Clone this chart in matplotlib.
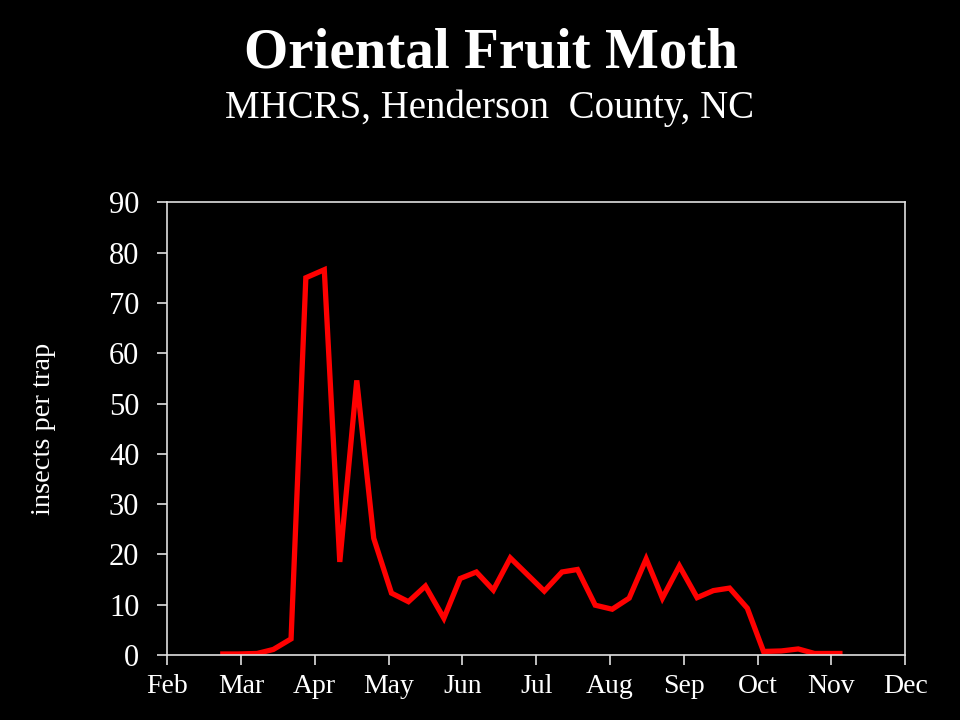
import matplotlib
matplotlib.use("Agg")
import matplotlib.pyplot as plt

# Trap dates as month positions (Feb = 2 ... Dec = 12)
week_pos = [2.72, 2.96, 3.22, 3.44, 3.68, 3.88, 4.13, 4.34, 4.57, 4.80,
            5.04, 5.27, 5.50, 5.75, 5.97, 6.19, 6.42, 6.65, 6.88, 7.11,
            7.35, 7.56, 7.80, 8.03, 8.26, 8.49, 8.71, 8.94, 9.18, 9.40,
            9.62, 9.86, 10.08, 10.32, 10.55, 10.77, 11.15]
insects = [0.2, 0.2, 0.3, 1.1, 3.2, 75.0, 76.6, 18.5, 54.6, 23.2,
           12.3, 10.6, 13.7, 7.3, 15.2, 16.5, 12.9, 19.3, 16.0, 12.7,
           16.5, 17.0, 9.9, 9.1, 11.3, 19.1, 11.3, 17.7, 11.4, 12.8,
           13.3, 9.3, 0.7, 0.8, 1.2, 0.3, 0.3]

month_pos = [2, 3, 4, 5, 6, 7, 8, 9, 10, 11, 12]
month_labels = ['Feb', 'Mar', 'Apr', 'May', 'Jun', 'Jul', 'Aug', 'Sep',
                'Oct', 'Nov', 'Dec']
y_ticks = [0, 10, 20, 30, 40, 50, 60, 70, 80, 90]

plt.rcParams['font.family'] = ['Liberation Serif', 'DejaVu Serif']

fig = plt.figure(figsize=(9.6, 7.2), dpi=100, facecolor='black')
ax = fig.add_axes([0.174, 0.0903, 0.769, 0.6287], facecolor='black')

ax.plot(week_pos, insects, color='#ff0000', linewidth=3.8,
        solid_joinstyle='miter', solid_capstyle='butt')

ax.set_xlim(2, 12)
ax.set_ylim(0, 90)
ax.set_xticks(month_pos)
ax.set_xticklabels(month_labels)
ax.set_yticks(y_ticks)

for side in ['left', 'right', 'top', 'bottom']:
    ax.spines[side].set_color('#e0e0e0')
    ax.spines[side].set_linewidth(1.2)

ax.tick_params(axis='both', colors='#e0e0e0', direction='out', length=7,
               width=1.2, labelcolor='white')
ax.tick_params(axis='y', pad=13, labelsize=22)
ax.tick_params(axis='x', pad=7, labelsize=20)

ax.set_ylabel('insects per trap', color='white', fontsize=20.5, labelpad=38)

fig.text(0.511, 0.926, 'Oriental Fruit Moth', ha='center', va='center',
         color='white', fontsize=41, fontweight='bold')
fig.text(0.51, 0.850, 'MHCRS, Henderson  County, NC', ha='center',
         va='center', color='white', fontsize=28)

fig.savefig('out.png', dpi=100, facecolor='black')
